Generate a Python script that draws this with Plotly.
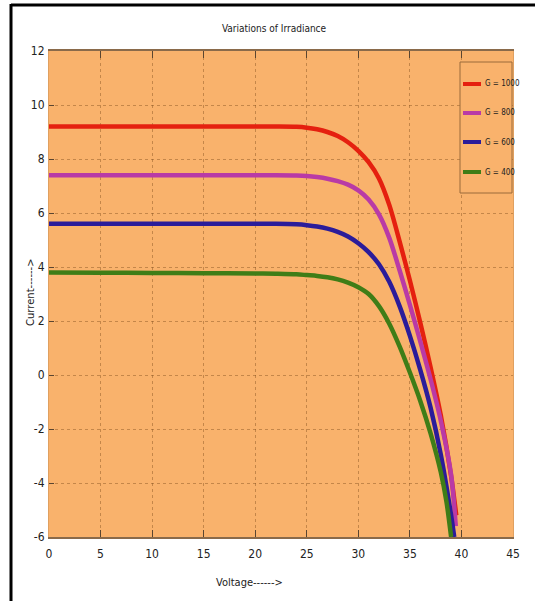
import plotly.graph_objects as go

# ---- data ----
labels = ["G = 1000", "G = 800", "G = 600", "G = 400"]

v_red = [0, 5, 10, 15, 20, 22, 24, 25, 26, 27, 28, 29, 30, 31, 32, 33, 34, 35, 36, 37, 38, 39, 39.5]
i_red = [9.2, 9.2, 9.2, 9.2, 9.2, 9.2, 9.19, 9.16, 9.1, 9.0, 8.85, 8.62, 8.3, 7.88, 7.28, 6.3, 4.95, 3.5, 1.95, 0.3, -1.5, -3.75, -5.2]

v_mag = [0, 5, 10, 15, 20, 22, 24, 25, 26, 27, 28, 29, 30, 31, 32, 33, 34, 35, 36, 37, 38, 39, 39.45]
i_mag = [7.4, 7.4, 7.4, 7.4, 7.4, 7.4, 7.39, 7.37, 7.33, 7.27, 7.18, 7.05, 6.84, 6.5, 5.95, 5.08, 3.88, 2.6, 1.25, -0.15, -1.7, -3.7, -5.6]

v_blue = [0, 5, 10, 15, 20, 22, 24, 25, 26, 27, 28, 29, 30, 31, 32, 33, 34, 35, 36, 37, 38, 39, 39.3]
i_blue = [5.6, 5.6, 5.6, 5.6, 5.6, 5.6, 5.58, 5.55, 5.5, 5.42, 5.3, 5.13, 4.88, 4.55, 4.1, 3.45, 2.55, 1.45, 0.2, -1.2, -2.95, -5.2, -6.0]

v_green = [0, 5, 10, 15, 20, 22, 24, 25, 26, 27, 28, 29, 30, 31, 32, 33, 34, 35, 36, 37, 38, 38.55, 39.0]
i_green = [3.8, 3.79, 3.78, 3.77, 3.76, 3.75, 3.73, 3.7, 3.67, 3.62, 3.54, 3.42, 3.25, 3.0, 2.55, 1.9, 1.06, 0.09, -0.95, -2.15, -3.6, -4.7, -6.0]

x_ticks = [0, 5, 10, 15, 20, 25, 30, 35, 40, 45]
y_ticks = [-6, -4, -2, 0, 2, 4, 6, 8, 10, 12]

series = [
    (labels[0], v_red, i_red, "#e5200f"),
    (labels[1], v_mag, i_mag, "#b93aa6"),
    (labels[2], v_blue, i_blue, "#2b1c9a"),
    (labels[3], v_green, i_green, "#3f7d17"),
]

W, H = 535, 601
ML, MR, MT, MB = 49, 22, 51, 64
BG = "#f9b26c"

fig = go.Figure()
for name, xs, ys, col in series:
    fig.add_trace(go.Scatter(
        x=xs, y=ys, mode="lines", name=name,
        line=dict(color=col, width=4.5, shape="spline", smoothing=0.8),
    ))

narrow = "DejaVu Sans Condensed, Liberation Sans Narrow, Arial Narrow, Liberation Sans, sans-serif"
grid_col = "rgba(130,80,30,0.45)"

fig.update_layout(
    width=W, height=H,
    margin=dict(l=ML, r=MR, t=MT, b=MB, autoexpand=False),
    paper_bgcolor="white",
    plot_bgcolor=BG,
    showlegend=False,
    title=dict(text="Variations of Irradiance", x=274 / W, xanchor="center",
               y=1 - 28 / H, yanchor="middle",
               font=dict(family=narrow, size=10, color="#222")),
    xaxis=dict(
        range=[0, 45], tickvals=x_ticks, ticktext=[str(t) for t in x_ticks],
        showgrid=True, gridcolor=grid_col, griddash="dot", gridwidth=1,
        zeroline=False, showline=True, linecolor="#8a6a4a", linewidth=2, mirror="ticks",
        ticks="inside", ticklen=7, tickcolor="#5a4530", tickwidth=1,
        ticklabelstandoff=5,
        tickfont=dict(family=narrow, size=12, color="#222"),
    ),
    yaxis=dict(
        range=[-6, 12], tickvals=y_ticks, ticktext=[str(t) for t in y_ticks],
        showgrid=True, gridcolor=grid_col, griddash="dot", gridwidth=1,
        zeroline=False, showline=True, linecolor="#e0a060", linewidth=1, mirror=True,
        ticks="inside", ticklen=5, tickcolor="#5a4530", tickwidth=1,
        ticklabelstandoff=1,
        tickfont=dict(family=narrow, size=12, color="#222"),
    ),
)

pw = W - ML - MR
ph = H - MT - MB


def px_x(p):
    return (p - ML) / pw


def px_y(p):
    return (H - MB - p) / ph


fig.add_annotation(text="Voltage------>", xref="paper", yref="paper",
                   x=px_x(249), y=px_y(582), xanchor="center", yanchor="middle",
                   showarrow=False,
                   font=dict(family=narrow, size=11, color="#222"))
fig.add_annotation(text="Current------>", xref="paper", yref="paper",
                   x=px_x(30), y=px_y(292), xanchor="center", yanchor="middle",
                   showarrow=False, textangle=-90,
                   font=dict(family="DejaVu Sans", size=10, color="#222"))

# legend box (drawn by hand to match the compact original legend)
fig.add_shape(type="rect", xref="paper", yref="paper",
              x0=px_x(460), x1=px_x(512), y0=px_y(193), y1=px_y(62),
              fillcolor=BG, line=dict(color="#9a6a3a", width=1))
entry_y = [84, 113, 142, 172]
for (name, xs, ys, col), ey in zip(series, entry_y):
    fig.add_shape(type="line", xref="paper", yref="paper",
                  x0=px_x(463), x1=px_x(481), y0=px_y(ey), y1=px_y(ey),
                  line=dict(color=col, width=4))
    fig.add_annotation(text=name, xref="paper", yref="paper",
                       x=px_x(483), y=px_y(ey), xanchor="left", yanchor="middle",
                       showarrow=False,
                       font=dict(family=narrow, size=8, color="#222"))

# black frame of the original image (top and left edges)
fig.add_shape(type="line", xref="paper", yref="paper",
              x0=px_x(11), x1=px_x(535), y0=px_y(5), y1=px_y(5),
              line=dict(color="black", width=3))
fig.add_shape(type="line", xref="paper", yref="paper",
              x0=px_x(11), x1=px_x(11), y0=px_y(4), y1=px_y(601),
              line=dict(color="black", width=3))

fig.write_html("out.html")
